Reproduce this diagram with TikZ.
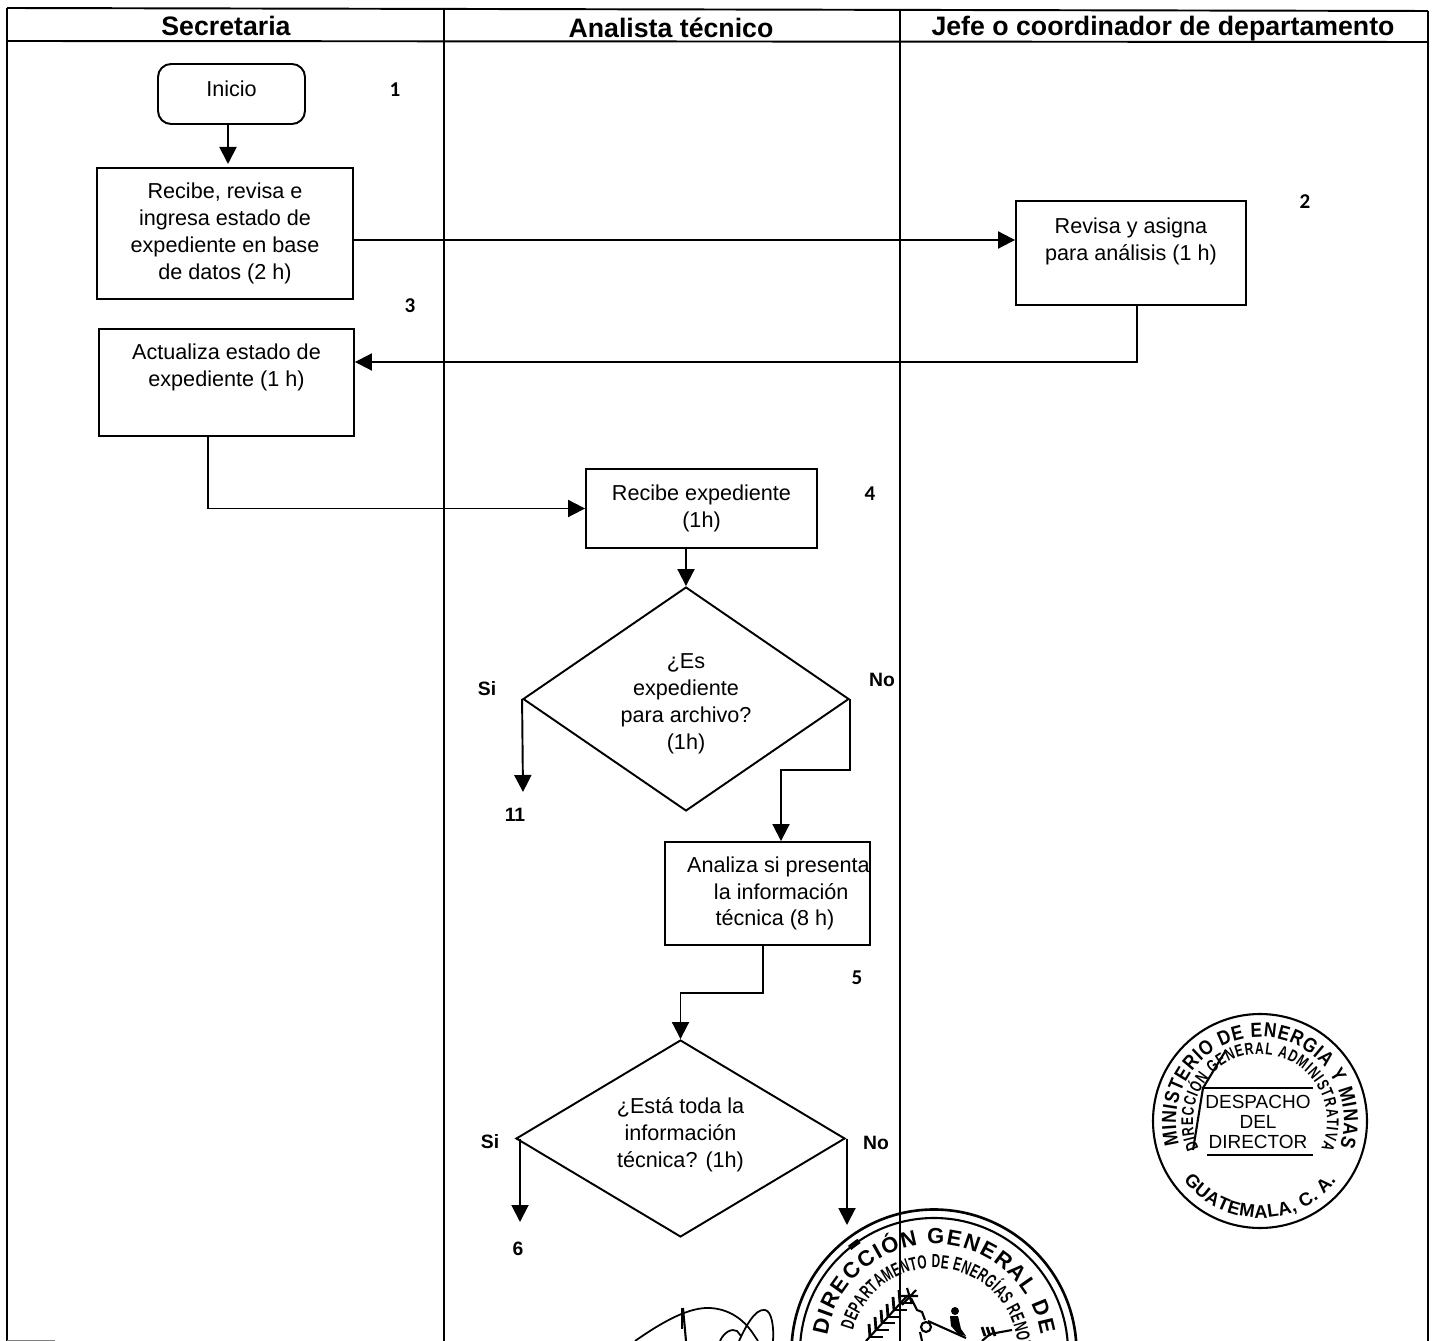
\documentclass[tikz,border=0pt]{standalone}
\usepackage{fontspec}
\setmainfont{Liberation Sans}
\newfontfamily\numfont{Carlito}
\newfontfamily\sealfont[FakeStretch=0.85]{Liberation Sans}
\newfontfamily\ringfont[FakeStretch=0.72]{Liberation Sans}
\newfontfamily\deptfont[FakeStretch=0.62]{Liberation Sans}
\usetikzlibrary{arrows.meta,decorations.text,shapes.geometric}
\tikzset{
>={Triangle[width=.34cm,length=.34cm]},
    lane/.style={line width=1.1pt},
    flow/.style={draw, line width=1.1pt, ->},
    stepbox/.style={
            rectangle,
    draw=black, line width=1.1pt,
    inner sep=0pt,
    align=center,
    font=\fontsize{12.3}{15.3}\selectfont},
    decision/.style={
            diamond,
    draw=black, line width=1.1pt,
    inner sep=0pt,
    align=center,
    font=\fontsize{12.3}{15.3}\selectfont},
    lanehead/.style={font=\fontsize{15.2}{17}\selectfont\bfseries},
    stepnum/.style={font=\fontsize{12}{14}\selectfont\numfont\bfseries},
    refnum/.style={font=\fontsize{11}{13}\selectfont\bfseries},
    answer/.style={font=\fontsize{11}{13}\selectfont\bfseries},
    ringtext/.style={decorate, decoration={text along path, text={#1}, text align=fit to path}},
    sealline/.style={line width=1.2pt},
}

\begin{document}
\begin{tikzpicture}[x=0.02cm,y=0.02cm]
\useasboundingbox (0,0) rectangle (1434,-1341);

  %% Draw Seals
  \begin{scope}[shift={(1260,-1121)}]
    \draw[sealline] (0,0) circle (107);
    \path[ringtext={|\fontsize{11.6}{13}\selectfont\sealfont\bfseries|MINISTERIO DE ENERGIA Y MINAS}] (196:84) arc[start angle=196,end angle=-18,radius=84];
    \path[ringtext={|\fontsize{9.6}{11}\selectfont\ringfont\bfseries|DIRECCIÓN GENERAL ADMINISTRATIVA}] (204:67) arc[start angle=204,end angle=-24,radius=67];
    \path[ringtext={|\fontsize{10.5}{12}\selectfont\bfseries|GUATEMALA, C. A.}] (218:97) arc[start angle=218,end angle=322,radius=97];
    \node[font=\fontsize{10.8}{11.3}\selectfont, align=center] (despacho) at (-2,-1) {DESPACHO\\DEL\\DIRECTOR};
    \draw[sealline] (-57,33) -- (53,33);
    \draw[sealline] (-53,-34) -- (53,-34);
    \draw[sealline] (-67,-29) -- (-57,33) -- (-34,71);
  \end{scope}

  \begin{scope}[shift={(934,-1352)}]
    \draw[line width=1.5pt] (0,0) circle (142.5);
    \draw[line width=1.2pt] (0,0) circle (134);
    \draw[line width=3pt] (129:134) arc[start angle=129,end angle=124,radius=134];
    \path[ringtext={|\fontsize{12.5}{14}\selectfont\bfseries|DIRECCIÓN GENERAL DE ENERGÍA}] (171:108) arc[start angle=171,end angle=-54,radius=108];
    \path[ringtext={|\fontsize{10.8}{12}\selectfont\deptfont\bfseries|DEPARTAMENTO DE ENERGÍAS RENOVABLES}] (165:84) arc[start angle=165,end angle=-27,radius=84];
  \end{scope}

  %% Draw Emblem
  \draw[line width=1.2pt] (866,-1341) -- (907,-1296);
  \foreach \x/\y in {870/-1337,876/-1330,882/-1323,888/-1317,894/-1310,900/-1303}{
    \draw[line width=1.6pt] (\x,\y) -- +(-1,13);
    \draw[line width=1.6pt] (\x,\y) -- +(13,0);
    }
  \draw[line width=1.2pt] (900,-1296) -- (918,-1296) (907,-1288) -- (912,-1304) (902,-1305) -- (916,-1290);
  \draw[line width=1.2pt] (911,-1298) -- (917,-1310) -- (922,-1312) -- (925,-1320);
  \draw[line width=1.2pt] (926,-1327) circle (5);
  \draw[line width=1.2pt] (928,-1321) -- (966,-1338) (920,-1332) -- (922,-1341);
  \fill (955,-1311) circle (4);
  \fill (950,-1316) -- (958,-1316) -- (961,-1329) -- (966,-1336) -- (958,-1334) -- (951,-1326) -- cycle;
  \draw[line width=1.2pt] (982,-1341) -- (990,-1334) -- (1012,-1330);
  \foreach \x in {985,990,995}{
    \draw[line width=1.6pt] (\x,-1336) -- +(-3,9);
    }

  %% Draw Signature
  \draw[line width=1pt] (635,-1341) .. controls (665,-1320) and (690,-1307) .. (710,-1308)
     .. controls (728,-1309) and (742,-1318) .. (752,-1332) -- (758,-1341);
  \draw[line width=1pt] (739,-1341) .. controls (745,-1328) and (755,-1308) .. (765,-1310)
     .. controls (772,-1311) and (774,-1328) .. (773,-1341);
  \draw[line width=1pt] (720,-1341) .. controls (724,-1332) and (732,-1328) .. (737,-1331) -- (741,-1336);
  \draw[line width=1.6pt] (682,-1308) -- (682,-1329);
  \draw[line width=1.2pt] (683,-1308) -- (686,-1341);

  %% Draw Lanes
  \draw[lane] (7,-8) -- (1428,-11);
  \draw[lane] (7,-41) -- (1428,-42);
  \draw[line width=1.4pt] (7,-8) -- (7,-1341);
  \draw[lane] (444,-9) -- (444,-1341);
  \draw[lane] (900,-10) -- (900,-1341);
  \draw[lane] (1428,-11) -- (1428,-1341);
  \draw[gray] (7,-1340) -- (55,-1340);

  \node[lanehead] (secretaria) at (226,-26) {Secretaria};
  \node[lanehead] (analista) at (671,-28) {Analista técnico};
  \node[lanehead] (jefe) at (1163,-29) {Jefe o coordinador de departamento};

  %% Draw Steps
  \node[stepbox, rounded corners=.26cm, minimum width=2.94cm, minimum height=1.2cm] (inicio) at (231.5,-94) {\raisebox{.2cm}{Inicio}};
  \node[stepbox, minimum width=5.12cm, minimum height=2.62cm] (recibe) at (225,-233.5) {Recibe, revisa e\\ingresa estado de\\expediente en base\\de datos (2 h)};
  \node[stepbox, minimum width=4.6cm, minimum height=2.08cm] (revisa) at (1131,-253) {Revisa y asigna\\para análisis (1 h)\\\mbox{}};
  \node[stepbox, minimum width=5.1cm, minimum height=2.14cm] (actualiza) at (226.5,-382.5) {Actualiza estado de\\expediente (1 h)\\[.14cm]\mbox{}};
  \node[stepbox, minimum width=4.62cm, minimum height=1.58cm] (expediente) at (701.5,-508.5) {Recibe expediente\\(1h)};
  \node[decision, shape aspect=1.455, minimum width=6.52cm, minimum height=4.48cm] (archivo) at (686,-699) {\rule{0pt}{.49cm}¿Es\\expediente\\para archivo?\\(1h)};
  \node[stepbox, minimum width=4.1cm, minimum height=2.06cm] (analiza) at (767.5,-893.5) {\hspace*{.44cm}Analiza si presenta\\\hspace*{.55cm}la información\\\hspace*{.3cm}técnica (8 h)};
  \node[decision, shape aspect=1.67, minimum width=6.58cm, minimum height=3.94cm] (completa) at (680.5,-1138.5) {¿Está toda la\\información\\técnica? (1h)\rule[-.23cm]{0pt}{.1cm}};

  %% Draw Numbers
  \foreach \x/\y/\z in {395/-90/1,
                     1305/-202/2,
                     410/-306/3,
                     870/-494/4,
                     857/-978/5
                     }{
    \node[stepnum] (num\z) at (\x,\y) {\z};
    }
  \node[refnum] (ref11) at (515,-815) {11};
  \node[refnum] (ref6) at (518,-1249) {6};

  \node[answer] (si1) at (487,-689) {Si};
  \node[answer] (no1) at (882,-680) {No};
  \node[answer] (si2) at (490,-1142) {Si};
  \node[answer] (no2) at (876,-1143) {No};

  \coordinate (end11) at (523,-792);
  \coordinate (end6) at (520,-1222);
  \coordinate (end7) at (847,-1225);

  %% Draw Connectors
  \draw[flow] (228,0 |- inicio.south) -- (228,-164);
  \draw[flow] (recibe.east |- 0,-240) -- (revisa.west |- 0,-240);
  \draw[flow] (1137,0 |- revisa.south) |- (actualiza.east |- 0,-362);
  \draw[flow] (208,0 |- actualiza.south) |- (expediente.west);
  \draw[flow] (archivo.north |- expediente.south) -- (archivo.north);
  \draw[flow] (archivo.west) -- (end11);
  \draw[flow] (archivo.east) -- ++(0,-71) -| (781,0 |- analiza.north);
  \draw[flow] (763,0 |- analiza.south) -- ++(0,-47) -| (completa.north);
  \draw[flow] (end6 |- completa.west) -- (end6);
  \draw[flow] (end7 |- completa.east) -- (end7);

\end{tikzpicture}
\end{document}
